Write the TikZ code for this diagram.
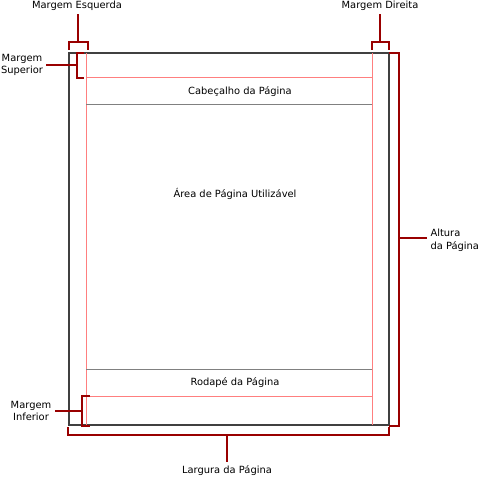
\documentclass[tikz,border=0pt]{standalone}
\usepackage{fontspec}
\setmainfont{DejaVu Sans}
\usetikzlibrary{positioning,calc}
\definecolor{pgdark}{HTML}{404040}
\definecolor{pggray}{HTML}{808080}
\definecolor{pgred}{HTML}{990000}
\definecolor{pglight}{HTML}{FF7F7F}

\begin{document}
\begin{tikzpicture}[x=1pt,y=-1pt,
  lbl/.style={font=\fontsize{9.9}{12.6}\selectfont,align=center,text=black},
  page/.style={draw=pgdark,line width=1.1pt},
  guide/.style={draw=pglight,line width=0.8pt},
  rule/.style={draw=pggray,line width=0.8pt},
  brace/.style={draw=pgred,line width=1.8pt},
  stem/.style={draw=pgred,line width=1.8pt}
]
\useasboundingbox (0,0) rectangle (479,478);

% Page
\draw[page] (69,53) rectangle (389,425);

% Margin guides
\draw[guide] (86,53) -- (86,425);
\draw[guide] (372,53) -- (372,425);
\draw[guide] (86,77) -- (372,77);
\draw[guide] (86,396) -- (372,396);

% Header and footer
\draw[rule] (86,104) -- (372,104);
\draw[rule] (86,369) -- (372,369);
\node[lbl] (head) at (240,92) {Cabeçalho da Página};
\node[lbl] (body) at (235,194) {Área de Página Utilizável};
\node[lbl] (foot) at (235,383) {Rodapé da Página};

% Labels
\node[lbl] (lblLeft) at (77,6) {Margem Esquerda};
\node[lbl] (lblRight) at (380,6) {Margem Direita};
\node[lbl] (lblTop) at (22,65) {Margem\\Superior};
\node[lbl] (lblBottom) at (31,411) {Margem\\Inferior};
\node[lbl,align=left,anchor=west] (lblHeight) at (427,240) {Altura\\da Página};
\node[lbl] (lblWidth) at (227,471) {Largura da Página};

% Brackets
\draw[brace] (69,50) -- (69,42) -- (88,42) -- (88,50);
\coordinate (lm) at (78,42);
\draw[brace] (372,50) -- (372,42) -- (389,42) -- (389,50);
\coordinate (rm) at (380,42);
\draw[brace] (84,53) -- (77,53) -- (77,78) -- (84,78);
\coordinate (tm) at (77,65);
\draw[brace] (90,396) -- (82,396) -- (82,426) -- (90,426);
\coordinate (bm) at (82,411);
\draw[brace] (389,53) -- (399,53) -- (399,426) -- (389,426);
\coordinate (ph) at (399,238);
\draw[brace] (68,427) -- (68,435) -- (389,435) -- (389,427);
\coordinate (pw) at (227,435);

% Stems
\draw[stem] (lm) -- (lm |- lblLeft.south);
\draw[stem] (rm) -- (rm |- lblRight.south);
\draw[stem] (tm) -- (tm -| lblTop.east);
\draw[stem] (bm) -- (bm -| lblBottom.east);
\draw[stem] (ph) -- (ph -| lblHeight.west);
\draw[stem] (pw) -- (pw |- lblWidth.north);
\end{tikzpicture}
\end{document}
